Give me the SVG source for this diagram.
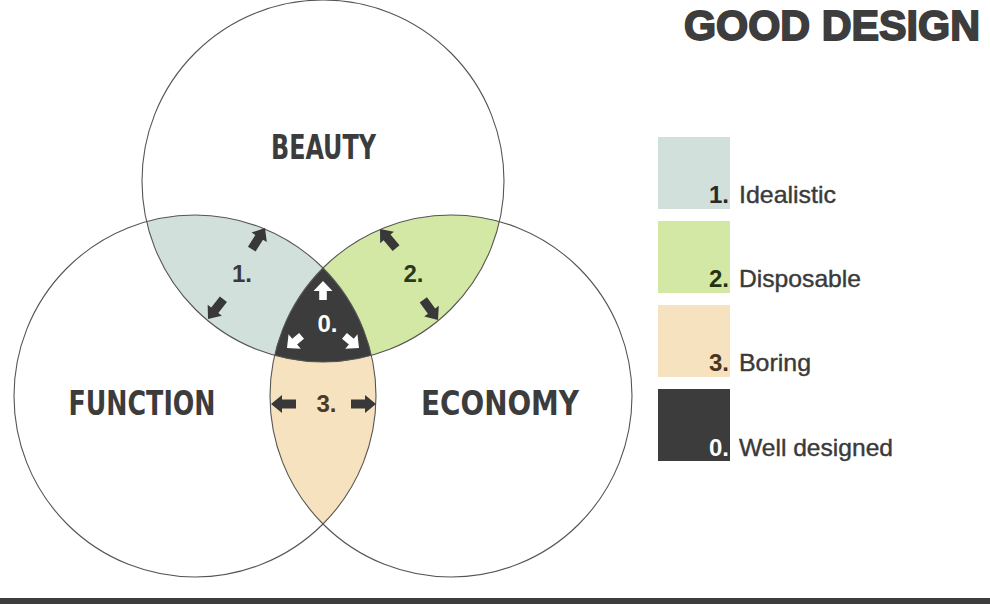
<svg xmlns="http://www.w3.org/2000/svg" xmlns:xlink="http://www.w3.org/1999/xlink" width="990" height="604" viewBox="0 0 990 604">
<style>
.circ{fill:none;stroke:#555;stroke-width:1.1}
.lbl{font-family:"DejaVu Sans Condensed","Liberation Sans Narrow","Liberation Sans",sans-serif;font-weight:bold;font-size:33px;fill:#3c3c3c}
.num{font-family:"Liberation Sans",Arial,sans-serif;font-weight:bold;font-size:24px}
.leg{font-family:"Liberation Sans",Arial,sans-serif;font-size:24px;fill:#3a3a3a;stroke:#3a3a3a;stroke-width:0.4}
.title{font-family:"Liberation Sans",Arial,sans-serif;font-weight:bold;font-size:42px;fill:#3d3d3d;stroke:#3d3d3d;stroke-width:1.8}
.c1{fill:#d2e0dc}.c2{fill:#d4e8a5}.c3{fill:#f6e2bf}.c0{fill:#3c3c3c}
</style>
<defs>
<path id="arrD" d="M0,0 L-11,-9 L-11,-4.5 L-25,-4.5 L-25,4.5 L-11,4.5 L-11,9 Z" fill="#383838"/>
<path id="arrW" d="M0,0 L-10,-9.5 L-10,-3.8 L-19,-3.8 L-19,3.8 L-10,3.8 L-10,9.5 Z" fill="#ffffff"/>
</defs>
<g id="regions">
<path id="region1" class="c1" d="M146.61,221.59 A181,181 0 0 1 323,268.03 A181,181 0 0 0 274.61,355.41 A181,181 0 0 1 146.61,221.59 Z"/>
<path id="region2" class="c2" d="M499.39,221.59 A181,181 0 0 0 323,268.03 A181,181 0 0 1 371.39,355.41 A181,181 0 0 0 499.39,221.59 Z"/>
<path id="region3" class="c3" d="M274.61,355.41 A181,181 0 0 0 371.39,355.41 A181,181 0 0 1 323,523.97 A181,181 0 0 1 274.61,355.41 Z"/>
<path id="region0" class="c0" d="M323,268.03 A181,181 0 0 1 371.39,355.41 A181,181 0 0 1 274.61,355.41 A181,181 0 0 1 323,268.03 Z"/>
</g>
<g id="circles">
<circle id="beauty" class="circ" cx="323" cy="181" r="181"/>
<circle id="function" class="circ" cx="195" cy="396" r="181"/>
<circle id="economy" class="circ" cx="451" cy="396" r="181"/>
</g>
<g id="connectors">
<use xlink:href="#arrD" href="#arrD" transform="translate(265,228) rotate(-58)"/>
<use xlink:href="#arrD" href="#arrD" transform="translate(208,319) rotate(128)"/>
<use xlink:href="#arrD" href="#arrD" transform="translate(380,229) rotate(-130)"/>
<use xlink:href="#arrD" href="#arrD" transform="translate(438,320) rotate(54)"/>
<use xlink:href="#arrD" href="#arrD" transform="translate(271,404) rotate(180)"/>
<use xlink:href="#arrD" href="#arrD" transform="translate(376,404)"/>
<use xlink:href="#arrW" href="#arrW" transform="translate(323,281) rotate(-90)"/>
<use xlink:href="#arrW" href="#arrW" transform="translate(287,348) rotate(140)"/>
<use xlink:href="#arrW" href="#arrW" transform="translate(359,348) rotate(40)"/>
</g>
<g id="labels">
<text class="lbl" x="323.5" y="159" text-anchor="middle" textLength="105" lengthAdjust="spacingAndGlyphs">BEAUTY</text>
<text class="lbl" x="142" y="415" text-anchor="middle" textLength="147" lengthAdjust="spacingAndGlyphs">FUNCTION</text>
<text class="lbl" x="500" y="415" text-anchor="middle" textLength="158" lengthAdjust="spacingAndGlyphs">ECONOMY</text>
<text class="num" x="242" y="282" text-anchor="middle" fill="#3a3a3a">1.</text>
<text class="num" x="413.5" y="282" text-anchor="middle" fill="#2b3a1e">2.</text>
<text class="num" x="327.5" y="332" text-anchor="middle" fill="#ffffff">0.</text>
<text class="num" x="326.5" y="412" text-anchor="middle" fill="#4a3a26">3.</text>
</g>
<g id="title">
<text class="title" x="684" y="40" textLength="296" lengthAdjust="spacingAndGlyphs">GOOD DESIGN</text>
</g>
<g id="legend">
<g id="legend1">
<rect class="c1" x="658" y="137" width="72" height="72"/>
<text class="num" x="729" y="203" text-anchor="end" fill="#2a2a2a">1.</text>
<text class="leg" x="739" y="203" textLength="97" lengthAdjust="spacingAndGlyphs">Idealistic</text>
</g>
<g id="legend2">
<rect class="c2" x="658" y="221" width="72" height="72"/>
<text class="num" x="729" y="287" text-anchor="end" fill="#223311">2.</text>
<text class="leg" x="739" y="287" textLength="122" lengthAdjust="spacingAndGlyphs">Disposable</text>
</g>
<g id="legend3">
<rect class="c3" x="658" y="305" width="72" height="72"/>
<text class="num" x="729" y="371" text-anchor="end" fill="#4a3520">3.</text>
<text class="leg" x="739" y="371" textLength="72" lengthAdjust="spacingAndGlyphs">Boring</text>
</g>
<g id="legend0">
<rect class="c0" x="658" y="389" width="72" height="72"/>
<text class="num" x="729" y="456" text-anchor="end" fill="#ffffff">0.</text>
<text class="leg" x="739" y="456" textLength="154" lengthAdjust="spacingAndGlyphs">Well designed</text>
</g>
</g>
<rect id="bottombar" x="0" y="598" width="990" height="6" fill="#3d3d3d"/>
</svg>
